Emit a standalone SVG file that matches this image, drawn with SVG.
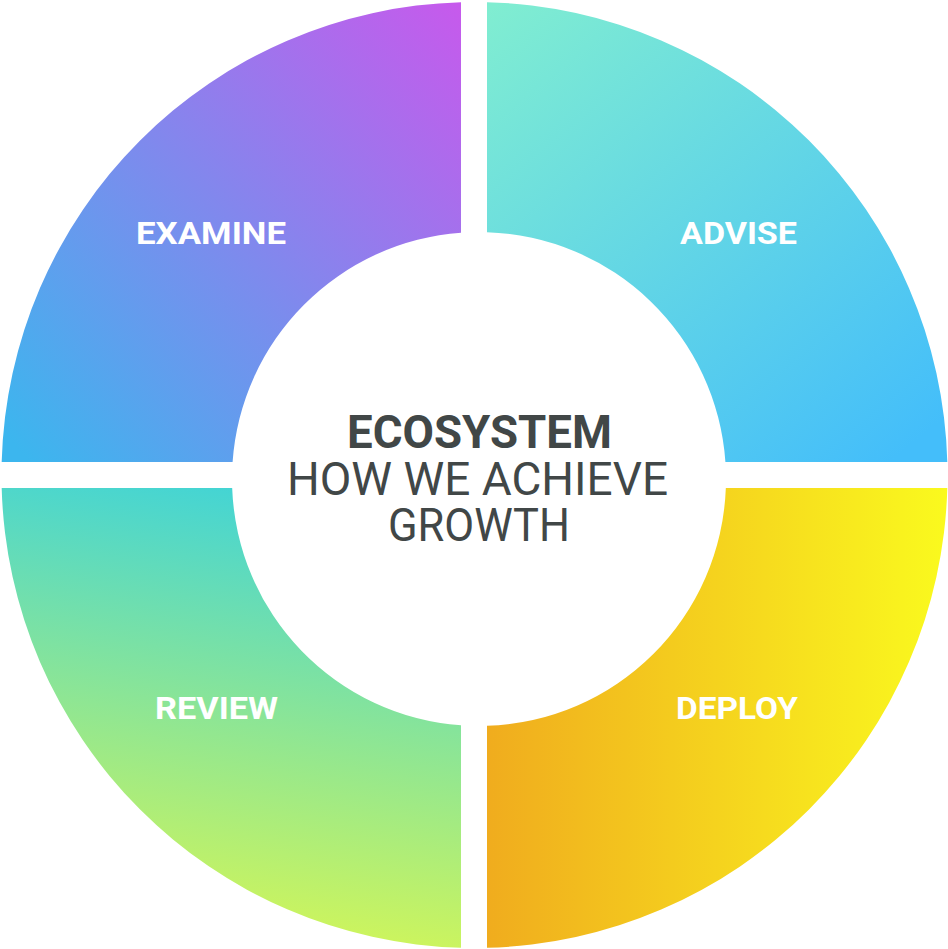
<svg xmlns="http://www.w3.org/2000/svg" width="948" height="949" viewBox="0 0 948 949">
<defs>
<linearGradient id="gTR" gradientUnits="userSpaceOnUse" x1="500" y1="0" x2="880" y2="470">
<stop offset="0" stop-color="#80EDD1"/>
<stop offset="1" stop-color="#44BEFA"/>
</linearGradient>
<linearGradient id="gTL" gradientUnits="userSpaceOnUse" x1="470" y1="20" x2="10" y2="440">
<stop offset="0" stop-color="#C65AEC"/>
<stop offset="1" stop-color="#3CB6EE"/>
</linearGradient>
<linearGradient id="gBL" gradientUnits="userSpaceOnUse" x1="360" y1="488" x2="290" y2="949">
<stop offset="0" stop-color="#3ED3D9"/>
<stop offset="1" stop-color="#D3F658"/>
</linearGradient>
<linearGradient id="gBR" gradientUnits="userSpaceOnUse" x1="487" y1="0" x2="948" y2="0">
<stop offset="0" stop-color="#F0AC1E"/>
<stop offset="1" stop-color="#FAFA1E"/>
</linearGradient>
</defs>
<style>
.lbl{font-family:Roboto,"Liberation Sans",sans-serif;font-weight:bold;font-size:32px;fill:#FFFFFF;text-anchor:middle}
.ctr{font-family:Roboto,"Liberation Sans",sans-serif;font-size:47px;fill:#414747;text-anchor:middle}
.ctrb{font-weight:bold}
</style>
<rect width="948" height="949" fill="#FFFFFF"/>
<g id="connectors"></g>
<g id="advise">
<path d="M487,2.17 A473,473 0 0 1 947.32,462 L725.41,462 A247,247 0 0 0 487,232.13 Z" fill="url(#gTR)"/>
<text class="lbl" x="738.5" y="244" textLength="117" lengthAdjust="spacingAndGlyphs">ADVISE</text>
</g>
<g id="examine">
<path d="M461,2.19 L461,232.66 A247,247 0 0 0 232.59,462 L1.68,462 A473,473 0 0 1 461,2.19 Z" fill="url(#gTL)"/>
<text class="lbl" x="211" y="244" textLength="150" lengthAdjust="spacingAndGlyphs">EXAMINE</text>
</g>
<g id="review">
<path d="M1.68,488 L232.17,488 A247,247 0 0 0 461,725.34 L461,947.81 A473,473 0 0 1 1.68,488 Z" fill="url(#gBL)"/>
<text class="lbl" x="216.5" y="719" textLength="123" lengthAdjust="spacingAndGlyphs">REVIEW</text>
</g>
<g id="deploy">
<path d="M487,725.87 A247,247 0 0 0 725.83,488 L947.32,488 A473,473 0 0 1 487,947.83 Z" fill="url(#gBR)"/>
<text class="lbl" x="737" y="719" textLength="122" lengthAdjust="spacingAndGlyphs">DEPLOY</text>
</g>
<g id="center">
<text class="ctr ctrb" x="479.5" y="448" textLength="265" lengthAdjust="spacingAndGlyphs">ECOSYSTEM</text>
<text class="ctr" x="477.5" y="494.5" textLength="381" lengthAdjust="spacingAndGlyphs">HOW WE ACHIEVE</text>
<text class="ctr" x="479" y="541" textLength="182" lengthAdjust="spacingAndGlyphs">GROWTH</text>
</g>
</svg>
